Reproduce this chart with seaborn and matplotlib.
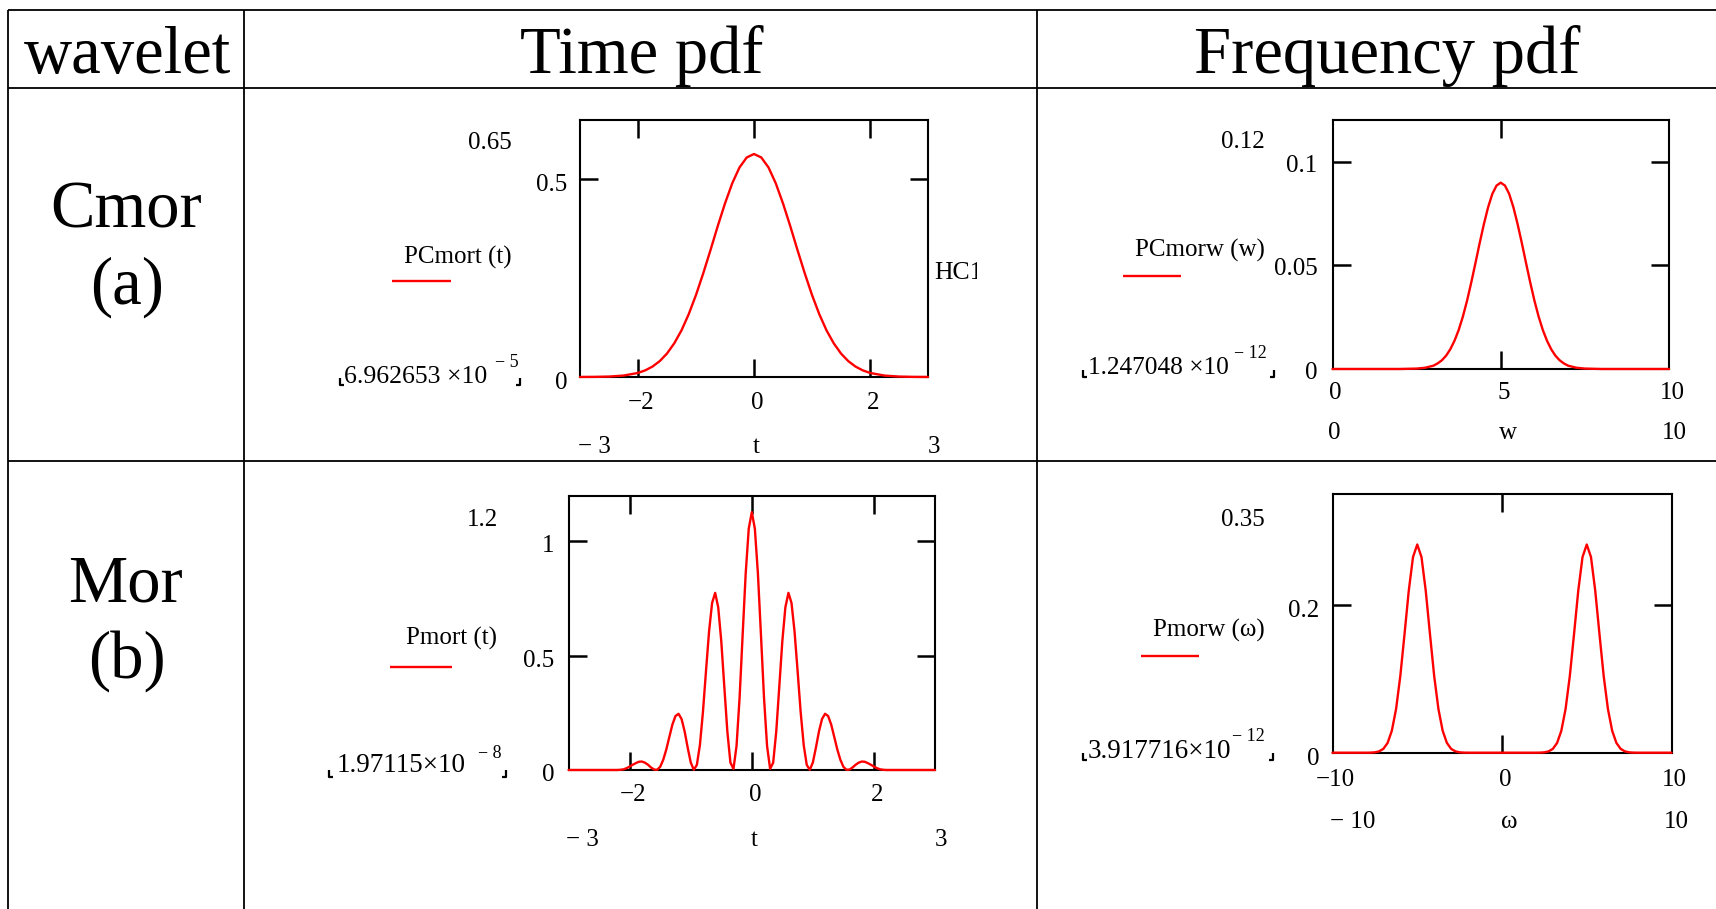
import matplotlib
matplotlib.use('Agg')
import matplotlib.pyplot as plt
import seaborn as sns
from matplotlib.lines import Line2D
from matplotlib.transforms import blended_transform_factory, offset_copy, Bbox

# ---- data ----
# Cmor, time pdf
cmor_t = [-3.0, -2.75, -2.5, -2.25, -2.0, -1.875, -1.75, -1.625, -1.5, -1.375, -1.25, -1.125, -1.0,
          -0.875, -0.75, -0.625, -0.5, -0.375, -0.25, -0.125, 0.0, 0.125, 0.25, 0.375, 0.5, 0.625,
          0.75, 0.875, 1.0, 1.125, 1.25, 1.375, 1.5, 1.625, 1.75, 1.875, 2.0, 2.25, 2.5, 2.75, 3.0]
cmor_pt = [0.0001, 0.0003, 0.0011, 0.0036, 0.0103, 0.0168, 0.0264, 0.0402, 0.0594, 0.0852, 0.1180, 0.1591, 0.2075,
           0.2623, 0.3210, 0.3817, 0.4390, 0.4900, 0.5300, 0.5553, 0.5640, 0.5553, 0.5300, 0.4900, 0.4390, 0.3817,
           0.3210, 0.2623, 0.2075, 0.1591, 0.1180, 0.0852, 0.0594, 0.0402, 0.0264, 0.0168, 0.0103, 0.0036, 0.0011,
           0.0003, 0.0001]

# Cmor, frequency pdf
cmor_w = [0, 1, 2, 2.5, 2.75, 3, 3.125, 3.25, 3.375, 3.5, 3.625, 3.75, 3.875, 4, 4.125, 4.25, 4.375, 4.5,
          4.625, 4.75, 4.875, 5, 5.125, 5.25, 5.375, 5.5, 5.625, 5.75, 5.875, 6, 6.125, 6.25, 6.375,
          6.5, 6.625, 6.75, 6.875, 7, 7.25, 7.5, 8, 9, 10]
cmor_pw = [0, 0, 0.0, 0.0002, 0.0006, 0.0016, 0.0027, 0.0042, 0.0064, 0.0095, 0.0136, 0.0188, 0.0253, 0.0330,
           0.0418, 0.0512, 0.0608, 0.0699, 0.0780, 0.0844, 0.0884, 0.0898, 0.0884, 0.0844, 0.0780, 0.0699,
           0.0608, 0.0512, 0.0418, 0.0330, 0.0253, 0.0188, 0.0136, 0.0095, 0.0064, 0.0042, 0.0027, 0.0016,
           0.0006, 0.0002, 0.0, 0, 0]

# Mor, time pdf
mor_t = [-3.0, -2.5,
         -2.2, -2.15, -2.1, -2.05, -2.0, -1.95, -1.9, -1.85, -1.8, -1.75, -1.7, -1.65, -1.6, -1.55,
         -1.5, -1.45, -1.4, -1.35, -1.3, -1.25, -1.2, -1.15, -1.1, -1.05, -1.0, -0.95, -0.9, -0.85,
         -0.8, -0.75, -0.7, -0.65, -0.6, -0.55, -0.5, -0.45, -0.4, -0.35, -0.3, -0.25, -0.2, -0.15,
         -0.1, -0.05, 0.0, 0.05, 0.1, 0.15, 0.2, 0.25, 0.3, 0.35, 0.4, 0.45, 0.5, 0.55, 0.6, 0.65,
         0.7, 0.75, 0.8, 0.85, 0.9, 0.95, 1.0, 1.05, 1.1, 1.15, 1.2, 1.25, 1.3, 1.35, 1.4, 1.45,
         1.5, 1.55, 1.6, 1.65, 1.7, 1.75, 1.8, 1.85, 1.9, 1.95, 2.0, 2.05, 2.1, 2.15, 2.2,
         2.5, 3.0]
mor_pt = [0.0, 0.0,
          0.000, 0.001, 0.003, 0.008, 0.015, 0.023, 0.030, 0.036, 0.037, 0.032, 0.023, 0.011, 0.002, 0.001,
          0.014, 0.045, 0.090, 0.145, 0.199, 0.236, 0.246, 0.223, 0.169, 0.098, 0.033, 0.001, 0.022, 0.109,
          0.254, 0.433, 0.606, 0.731, 0.775, 0.712, 0.564, 0.364, 0.167, 0.032, 0.005, 0.105, 0.316, 0.591,
          0.860, 1.056, 1.128, 1.056, 0.860, 0.591, 0.316, 0.105, 0.005, 0.032, 0.167, 0.364, 0.564, 0.712,
          0.775, 0.731, 0.606, 0.433, 0.254, 0.109, 0.022, 0.001, 0.033, 0.098, 0.169, 0.223, 0.246, 0.236,
          0.199, 0.145, 0.090, 0.045, 0.014, 0.001, 0.002, 0.011, 0.023, 0.032, 0.037, 0.036, 0.030, 0.023,
          0.015, 0.008, 0.003, 0.001, 0.000,
          0.0, 0.0]

# Mor, frequency pdf
mor_w = [-10, -9, -8, -7.75, -7.5, -7.25, -7, -6.75, -6.5, -6.25, -6, -5.75, -5.5, -5.25, -5,
         -4.75, -4.5, -4.25, -4, -3.75, -3.5, -3.25, -3, -2.75, -2.5, -2.25, -2, -1, 0, 1,
         2, 2.25, 2.5, 2.75, 3, 3.25, 3.5, 3.75, 4, 4.25, 4.5, 4.75, 5,
         5.25, 5.5, 5.75, 6, 6.25, 6.5, 6.75, 7, 7.25, 7.5, 7.75, 8, 9, 10]
mor_pw = [0, 0, 0.0, 0.0001, 0.0005, 0.0018, 0.0052, 0.0132, 0.0297, 0.0591, 0.1037, 0.1607, 0.2196, 0.2650, 0.2820,
          0.2650, 0.2196, 0.1607, 0.1037, 0.0591, 0.0297, 0.0132, 0.0052, 0.0018, 0.0005, 0.0001, 0.0, 0, 0, 0,
          0.0, 0.0001, 0.0005, 0.0018, 0.0052, 0.0132, 0.0297, 0.0591, 0.1037, 0.1607, 0.2196, 0.2650, 0.2820,
          0.2650, 0.2196, 0.1607, 0.1037, 0.0591, 0.0297, 0.0132, 0.0052, 0.0018, 0.0005, 0.0001, 0.0, 0, 0]

# table texts
header = ['wavelet', 'Time pdf', 'Frequency pdf']
row_names = [('Cmor', '(a)'), ('Mor', '(b)')]

# tick marks and tick labels
a_xticks, a_yticks = [-2, 0, 2], [0.5]
a_xlab_vals, a_xlab = [-2, 0, 2], ['\u22122', '0', '2']
a_ylab_vals, a_ylab = [0, 0.5], ['0', '0.5']
b_xticks, b_yticks = [5], [0.05, 0.1]
b_xlab_vals, b_xlab = [0, 5, 10], ['0', '5', '10']
b_ylab_vals, b_ylab = [0, 0.05, 0.1], ['0', '0.05', '0.1']
c_xticks, c_yticks = [-2, 0, 2], [0.5, 1]
c_xlab_vals, c_xlab = [-2, 0, 2], ['\u22122', '0', '2']
c_ylab_vals, c_ylab = [0, 0.5, 1], ['0', '0.5', '1']
d_xticks, d_yticks = [0], [0.2]
d_xlab_vals, d_xlab = [-10, 0, 10], ['\u221210', '0', '10']
d_ylab_vals, d_ylab = [0, 0.2], ['0', '0.2']

# ---- figure ----
sns.set_style('white')
plt.rcParams['font.family'] = ['Liberation Serif', 'DejaVu Serif']
plt.rcParams['text.color'] = 'black'
plt.rcParams['axes.unicode_minus'] = True

W, H = 1716, 909
fig = plt.figure(figsize=(W / 100, H / 100), dpi=100)
fig.patch.set_facecolor('white')


def px(x, y):
    return x / W, 1 - y / H


def fline(xs, ys, color='black', lw=1.3):
    fig.add_artist(Line2D([x / W for x in xs], [1 - y / H for y in ys],
                          transform=fig.transFigure, color=color, lw=lw, solid_capstyle='butt'))


# table grid
for y in [10, 87.5, 461.5]:
    fline([7.5, W], [y, y])
for x in [7.5, 243.7, 1036.5]:
    fline([x, x], [10, H])

fig.text(*px(127, 72.7), header[0], ha='center', va='baseline', fontsize=48)
fig.text(*px(642, 72.7), header[1], ha='center', va='baseline', fontsize=48)
fig.text(*px(1387.5, 72.7), header[2], ha='center', va='baseline', fontsize=48)
fig.text(*px(126, 227.7), row_names[0][0], ha='center', va='baseline', fontsize=48)
fig.text(*px(127, 304), row_names[0][1], ha='center', va='baseline', fontsize=48)
fig.text(*px(125, 601.7), row_names[1][0], ha='center', va='baseline', fontsize=48)
fig.text(*px(127, 678), row_names[1][1], ha='center', va='baseline', fontsize=48)


def panel(box, xs, ys, xlim, ylim, xticks, yticks, xlab_vals, xlab, ylab_vals, ylab,
          ylab_dx, ylab_dy, xlab_dy):
    l, t, r, b = box
    ax = fig.add_axes([l / W, 1 - b / H, (r - l) / W, (b - t) / H])
    sns.lineplot(x=xs, y=ys, ax=ax, color='#ff0000', linewidth=1.7, sort=False, estimator=None)
    for ln in ax.lines:
        ln.set_clip_on(False)
        ln.set_zorder(3)
    ax.set_xlim(xlim)
    ax.set_ylim(ylim)
    ax.set_xticks(xticks)
    ax.set_yticks(yticks)
    ax.set_xlabel('')
    ax.set_ylabel('')
    ax.tick_params(direction='in', length=13, width=1.8, color='black',
                   bottom=True, top=True, left=True, right=True,
                   labelbottom=False, labelleft=False)
    for s in ax.spines.values():
        s.set_visible(True)
        s.set_color('black')
        s.set_linewidth(1.5)
    ax.set_facecolor('none')
    xtr = offset_copy(blended_transform_factory(ax.transData, ax.transAxes), fig=fig,
                      x=3, y=xlab_dy, units='dots')
    for v, s in zip(xlab_vals, xlab):
        ax.text(v, 0, s, transform=xtr, ha='center', va='center', fontsize=18)
    ytr = offset_copy(blended_transform_factory(ax.transAxes, ax.transData), fig=fig,
                      x=ylab_dx, y=ylab_dy, units='dots')
    for v, s in zip(ylab_vals, ylab):
        ax.text(0, v, s, transform=ytr, ha='right', va='center', fontsize=18)
    return ax


def extras(top_lab, top_xy, name, name_xy, leg, low, low_xy, low_size, sup, sup_xy, brk, range_labs):
    fig.text(*px(*top_xy), top_lab, ha='right', va='center', fontsize=18)
    fig.text(*px(*name_xy), name, ha='right', va='center', fontsize=18)
    fline([leg[0], leg[1]], [leg[2], leg[2]], color='#ff0000', lw=1.7)
    fig.text(*px(*low_xy), low, ha='left', va='center', fontsize=low_size)
    fig.text(*px(*sup_xy), sup, ha='left', va='center', fontsize=13)
    x0, x1, yb = brk
    fline([x0, x0, x0 + 4], [yb - 7, yb, yb], lw=1.6)
    fline([x1, x1, x1 - 4], [yb - 7, yb, yb], lw=1.6)
    for s, x, y in range_labs:
        fig.text(*px(x, y), s, ha='center', va='center', fontsize=18)


panel((580, 120, 928, 377), cmor_t, cmor_pt, (-3, 3), (0, 0.65), a_xticks, a_yticks,
      a_xlab_vals, a_xlab, a_ylab_vals, a_ylab, -13, -6, -26)
extras('0.65', (512, 143), 'PCmort (t)', (512, 257), (392, 451, 281),
       '6.962653 \u00d710', (343.6, 376.5), 18.5, '\u2212 5', (495, 362), (339.5, 519.5, 385),
       [('\u2212 3', 594, 447), ('t', 756, 447), ('3', 934, 447)])
hc = fig.text(*px(934, 273), 'HC1', ha='left', va='center', fontsize=18.5)
hc.set_clip_box(Bbox.from_extents(900, 0, 977, H))
hc.set_clip_on(True)

panel((1332.5, 120, 1669, 369), cmor_w, cmor_pw, (0, 10), (0, 0.12), b_xticks, b_yticks,
      b_xlab_vals, b_xlab, b_ylab_vals, b_ylab, -15, -4, -24)
extras('0.12', (1264.5, 142), 'PCmorw (w)', (1264.5, 250), (1123, 1181, 276),
       '1.247048 \u00d710', (1088, 368), 18.3, '\u2212 12', (1234, 354), (1082.5, 1273.5, 377),
       [('0', 1334, 433), ('w', 1507.5, 433), ('10', 1674.5, 433)])

panel((568.6, 495.7, 935, 770), mor_t, mor_pt, (-3, 3), (0, 1.2), c_xticks, c_yticks,
      c_xlab_vals, c_xlab, c_ylab_vals, c_ylab, -14, -5, -25)
extras('1.2', (498, 520), 'Pmort (t)', (497, 638), (389.5, 451.5, 667),
       '1.97115\u00d710', (336.7, 765.5), 19.5, '\u2212 8', (478, 753), (329, 506, 776.7),
       [('\u2212 3', 582.4, 840), ('t', 754.5, 840), ('3', 941.4, 840)])

panel((1332.5, 494.3, 1671.5, 752.7), mor_w, mor_pw, (-10, 10), (0, 0.35), d_xticks, d_yticks,
      d_xlab_vals, d_xlab, d_ylab_vals, d_ylab, -13, -6, -27)
extras('0.35', (1264.5, 520), 'Pmorw (\u03c9)', (1264.5, 630), (1140.5, 1198.7, 655.7),
       '3.917716\u00d710', (1087.4, 751.5), 19.5, '\u2212 12', (1232, 736.7), (1082.5, 1272.5, 760),
       [('\u2212 10', 1352.5, 821.7), ('\u03c9', 1509, 821.7), ('10', 1676.6, 821.7)])

fig.savefig('out.png', dpi=100, facecolor='white')
